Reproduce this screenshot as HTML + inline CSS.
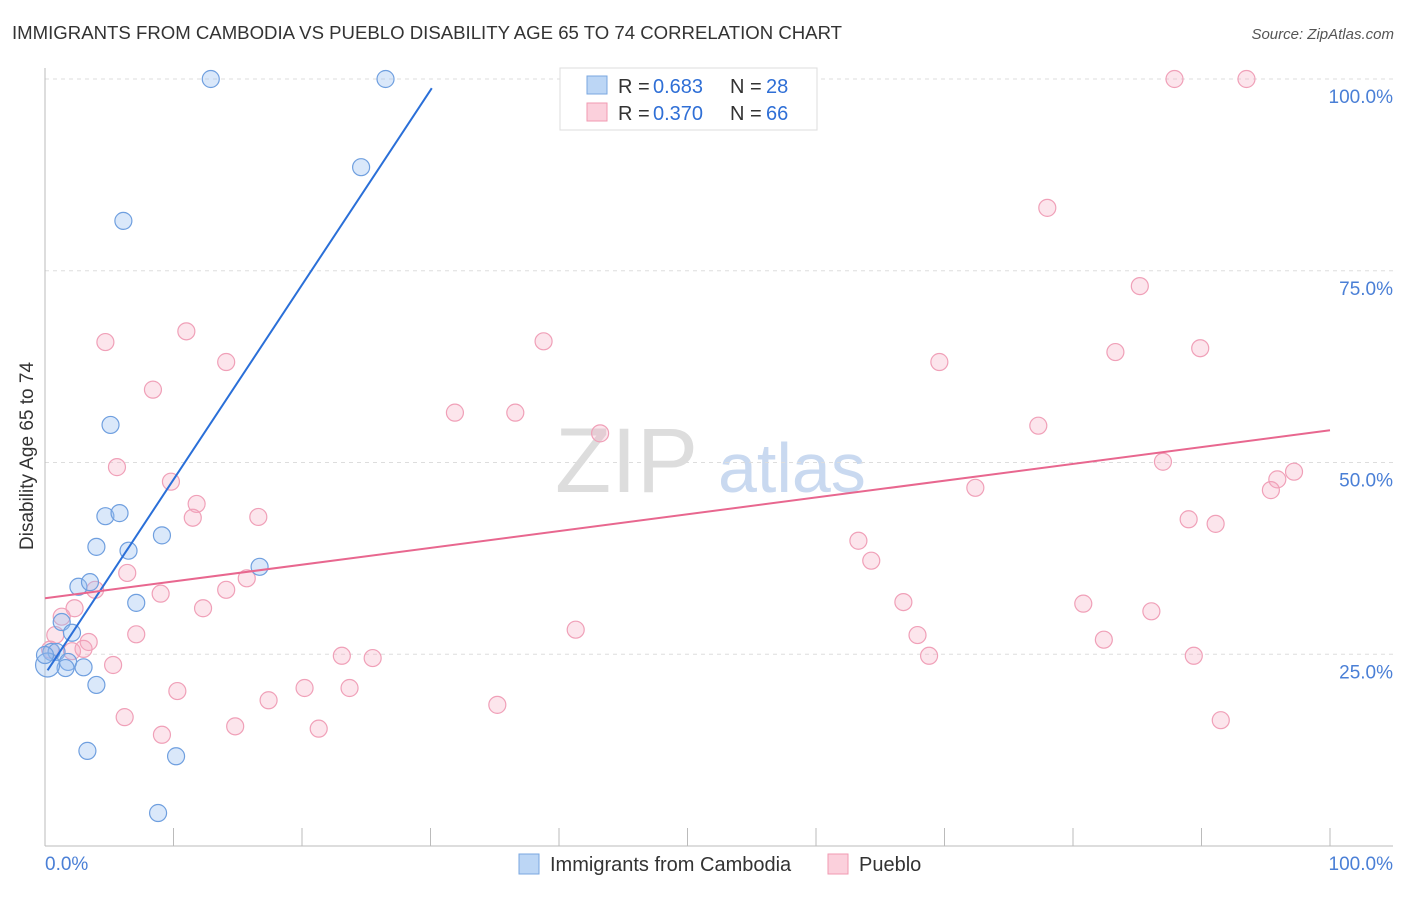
<!DOCTYPE html>
<html><head><meta charset="utf-8"><style>
body{margin:0;background:#fff;font-family:"Liberation Sans",sans-serif;}
svg text{font-family:"Liberation Sans",sans-serif;}
</style></head><body>
<svg id="c" width="1406" height="892">
<text x="12" y="39" font-size="18.6" fill="#333">IMMIGRANTS FROM CAMBODIA VS PUEBLO DISABILITY AGE 65 TO 74 CORRELATION CHART</text>
<text x="1394" y="39" font-size="15" fill="#555" font-style="italic" text-anchor="end">Source: ZipAtlas.com</text>
<text x="33" y="456" font-size="19" fill="#333" text-anchor="middle" transform="rotate(-90 33 456)">Disability Age 65 to 74</text>
<text x="555" y="492" font-size="92" fill="#ddd" font-family="Liberation Serif">ZIP</text>
<text x="718" y="492" font-size="70" fill="#c9d9f0">atlas</text>
<g id="grid"></g><g id="pts"></g><g id="lines"></g>
<g>
<rect x="560" y="68" width="257" height="62" fill="#fff" stroke="#ddd"/>
<rect x="587" y="76" width="20" height="18" fill="#bcd6f5" stroke="#7aa7e0"/>
<text x="618" y="93" font-size="20" fill="#333">R = </text><text x="653" y="93" font-size="20" fill="#2f6fd6">0.683</text>
<text x="730" y="93" font-size="20" fill="#333">N = </text><text x="766" y="93" font-size="20" fill="#2f6fd6">28</text>
<rect x="587" y="103" width="20" height="18" fill="#fbd0dc" stroke="#f09ab2"/>
<text x="618" y="120" font-size="20" fill="#333">R = </text><text x="653" y="120" font-size="20" fill="#2f6fd6">0.370</text>
<text x="730" y="120" font-size="20" fill="#333">N = </text><text x="766" y="120" font-size="20" fill="#2f6fd6">66</text>
</g>
<g>
<rect x="519" y="854" width="20" height="20" fill="#bcd6f5" stroke="#7aa7e0"/>
<text x="550" y="871" font-size="20" fill="#333">Immigrants from Cambodia</text>
<rect x="828" y="854" width="20" height="20" fill="#fbd0dc" stroke="#f09ab2"/>
<text x="859" y="871" font-size="20" fill="#333">Pueblo</text>
</g>
<text x="45" y="870" font-size="19" fill="#4a7fd6">0.0%</text>
<text x="1393" y="870" font-size="19" fill="#4a7fd6" text-anchor="end">100.0%</text>
</svg>
<script>
const yTicks=[100,75,50,25];
const yTickLabels=["100.0%","75.0%","50.0%","25.0%"];
const blueX=[12.9,26.5,24.6,6.1,5.1,4.7,5.8,4.0,6.5,9.1,16.7,2.6,3.5,7.1,1.3,2.1,0.5,0.9,1.8,3.0,4.0,1.6,3.3,10.2,8.8,0.2,0];
const blueY=[100,100,88.5,81.5,54.9,43.0,43.4,39.0,38.5,40.5,36.4,33.8,34.4,31.7,29.2,27.8,25.3,25.3,24.0,23.3,21.0,23.2,12.4,11.7,4.3,23.6,24.9];
const pinkX=[45.7,87.9,93.5,78.0,85.2,4.7,11.0,38.8,14.1,69.6,83.3,89.9,8.4,31.9,36.6,77.3,43.2,5.6,87.0,97.2,95.9,95.4,72.4,9.8,11.8,11.5,16.6,89.0,91.1,63.3,64.3,6.4,15.7,14.1,3.9,9.0,66.8,80.8,86.1,12.3,2.3,1.3,41.3,7.1,67.9,0.8,3.4,82.4,2.1,3.0,23.1,25.5,68.8,89.4,5.3,10.3,20.2,23.7,17.4,35.2,6.2,91.5,14.8,21.3,9.1,0.4];
const pinkY=[100,100,100,83.2,73.0,65.7,67.1,65.8,63.1,63.1,64.4,64.9,59.5,56.5,56.5,54.8,53.8,49.4,50.1,48.8,47.8,46.4,46.7,47.5,44.6,42.8,42.9,42.6,42.0,39.8,37.2,35.6,34.9,33.4,33.4,32.9,31.8,31.6,30.6,31.0,31.0,29.9,28.2,27.6,27.5,27.5,26.6,26.9,25.4,25.7,24.8,24.5,24.8,24.8,23.6,20.2,20.6,20.6,19.0,18.4,16.8,16.4,15.6,15.3,14.5,25.6];
const blueLine=[[0.2,22.9],[30.1,98.8]];
const pinkLine=[[0,32.3],[100,54.2]];
const NS="http://www.w3.org/2000/svg";
const X=v=>45+v*12.85, Y=v=>846-v*7.67;
function mk(t,a,p){const e=document.createElementNS(NS,t);for(const k in a)e.setAttribute(k,a[k]);document.getElementById(p).appendChild(e);return e;}
yTicks.forEach((t,i)=>{
 const l=mk('line',{x1:45,x2:1393,y1:Y(t),y2:Y(t),stroke:'#ddd','stroke-dasharray':'4 4'},'grid');
 
 
 const tx=mk('text',{x:1393,y:Y(t)+24,'font-size':19,fill:'#4a7fd6','text-anchor':'end'},'grid');
 tx.textContent=yTickLabels[i];
 
 
});
let ax=mk('line',{x1:45,x2:45,y1:68,y2:846,stroke:'#bbb'},'grid');


let bx=mk('line',{x1:45,x2:1393,y1:846,y2:846,stroke:'#bbb'},'grid');


for(let i=1;i<=10;i++){const t=mk('line',{x1:X(i*10),x2:X(i*10),y1:828,y2:846,stroke:'#bbb'},'grid');
 
 }
pinkX.forEach((v,i)=>{const c=mk('circle',{cx:X(v),cy:Y(pinkY[i]),r:8.5,fill:'rgba(246,170,192,0.3)',stroke:'#f0a0b8','stroke-width':1.2},'pts');
 
 });
blueX.forEach((v,i)=>{const c=mk('circle',{cx:X(v),cy:Y(blueY[i]),r:i==25?12:8.5,fill:'rgba(150,190,240,0.35)',stroke:'#6f9fdf','stroke-width':1.2},'pts');
 
 });
const bl=mk('line',{x1:X(blueLine[0][0]),y1:Y(blueLine[0][1]),x2:X(blueLine[1][0]),y2:Y(blueLine[1][1]),stroke:'#2a6fd8','stroke-width':2},'lines');


const pl=mk('line',{x1:X(pinkLine[0][0]),y1:Y(pinkLine[0][1]),x2:X(pinkLine[1][0]),y2:Y(pinkLine[1][1]),stroke:'#e8678f','stroke-width':2},'lines');


</script>
</body></html>
